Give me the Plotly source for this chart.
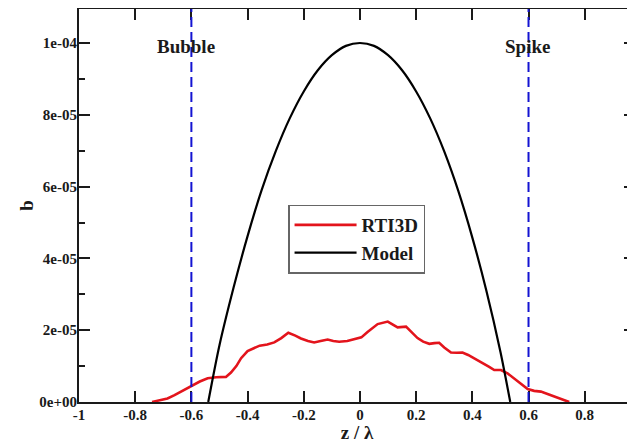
import plotly.graph_objects as go

# ---------------- data ----------------
rti3d_z = [-0.74, -0.70, -0.685, -0.66, -0.637, -0.615, -0.595, -0.57, -0.542, -0.512,
           -0.477, -0.459, -0.44, -0.423, -0.40, -0.38, -0.357, -0.33, -0.305, -0.28,
           -0.255, -0.23, -0.21, -0.185, -0.163, -0.14, -0.115, -0.095, -0.074, -0.045,
           -0.02, 0.005, 0.027, 0.045, 0.063, 0.099, 0.12, 0.134, 0.164, 0.185,
           0.205, 0.225, 0.247, 0.265, 0.282, 0.30, 0.324, 0.345, 0.365, 0.385,
           0.401, 0.431, 0.46, 0.478, 0.502, 0.525, 0.549, 0.575, 0.597, 0.62,
           0.644, 0.675, 0.704, 0.73, 0.745]
rti3d_b = [0.0e-5, 0.07e-5, 0.10e-5, 0.19e-5, 0.29e-5, 0.38e-5, 0.47e-5, 0.57e-5, 0.66e-5, 0.69e-5,
           0.70e-5, 0.82e-5, 1.00e-5, 1.22e-5, 1.42e-5, 1.50e-5, 1.57e-5, 1.60e-5, 1.66e-5, 1.78e-5,
           1.93e-5, 1.85e-5, 1.77e-5, 1.70e-5, 1.66e-5, 1.70e-5, 1.74e-5, 1.70e-5, 1.68e-5, 1.70e-5,
           1.74e-5, 1.80e-5, 1.95e-5, 2.06e-5, 2.17e-5, 2.24e-5, 2.14e-5, 2.08e-5, 2.10e-5, 1.95e-5,
           1.78e-5, 1.68e-5, 1.62e-5, 1.64e-5, 1.65e-5, 1.52e-5, 1.38e-5, 1.37e-5, 1.38e-5, 1.31e-5,
           1.24e-5, 1.12e-5, 0.98e-5, 0.89e-5, 0.89e-5, 0.80e-5, 0.66e-5, 0.50e-5, 0.36e-5, 0.31e-5,
           0.29e-5, 0.20e-5, 0.12e-5, 0.05e-5, 0.0e-5]

model_z = [-0.54, -0.50, -0.45, -0.40, -0.35, -0.30, -0.25, -0.20, -0.15, -0.10, -0.05,
           0.0, 0.05, 0.10, 0.15, 0.20, 0.25, 0.30, 0.35, 0.40, 0.45, 0.50, 0.535]
model_b = [0.0, 0.158e-4, 0.318e-4, 0.462e-4, 0.59e-4, 0.698e-4, 0.79e-4, 0.865e-4, 0.924e-4, 0.966e-4, 0.992e-4,
           1.0e-4, 0.992e-4, 0.966e-4, 0.924e-4, 0.865e-4, 0.79e-4, 0.698e-4, 0.588e-4, 0.458e-4, 0.31e-4, 0.14e-4, 0.0]

marker_z = [-0.6, 0.6]
marker_labels = ["Bubble", "Spike"]
marker_label_z = [-0.618, 0.596]
marker_label_b = 0.99e-4

x_tick_vals = [-1, -0.8, -0.6, -0.4, -0.2, 0, 0.2, 0.4, 0.6, 0.8, 1]
x_tick_text = ["-1", "-0.8", "-0.6", "-0.4", "-0.2", "0", "0.2", "0.4", "0.6", "0.8", "1"]
y_tick_vals = [0, 2e-5, 4e-5, 6e-5, 8e-5, 1e-4]
y_tick_text = ["0e+00", "2e-05", "4e-05", "6e-05", "8e-05", "1e-04"]

FONT = "Liberation Serif, Times New Roman, serif"
INK = "#1a1a1a"

fig = go.Figure()
fig.add_trace(go.Scatter(x=rti3d_z, y=rti3d_b, mode="lines", name="RTI3D",
                         line=dict(color="#e3141c", width=2.6)))
fig.add_trace(go.Scatter(x=model_z, y=model_b, mode="lines", name="Model",
                         line=dict(color="black", width=2.2, shape="spline", smoothing=0.8)))

for z in marker_z:
    fig.add_shape(type="line", x0=z, x1=z, xref="x", y0=0, y1=1, yref="paper",
                  line=dict(color="#1414d2", width=2, dash="10px,5px"))

for lab, z in zip(marker_labels, marker_label_z):
    fig.add_annotation(x=z, y=marker_label_b, text=lab, showarrow=False,
                       xanchor="center", yanchor="middle",
                       font=dict(family=FONT, size=19, color=INK, weight="bold"))

# invisible trace for right-side tick axis
fig.add_trace(go.Scatter(x=[None], y=[None], yaxis="y2", showlegend=False, hoverinfo="skip"))

yrange = [0, 1.0947e-4]
fig.update_layout(
    width=627, height=435,
    margin=dict(l=71, r=0, t=1, b=41, autoexpand=False),
    plot_bgcolor="white", paper_bgcolor="white",
    font=dict(family=FONT, size=15, color=INK, weight="bold"),
    showlegend=True,
    legend=dict(x=0.376, y=0.5025, xanchor="left", yanchor="top",
                bgcolor="white", bordercolor="#666", borderwidth=1.5,
                font=dict(family=FONT, size=19, color=INK, weight="bold"),
                itemwidth=62, tracegroupgap=2),
    xaxis=dict(range=[-1, 0.979], tickvals=x_tick_vals, ticktext=x_tick_text,
               ticks="inside", ticklen=11, tickwidth=2, tickcolor=INK,
               showline=True, linewidth=2, linecolor=INK, mirror="ticks",
               showgrid=False, zeroline=False, automargin=False, ticklabelstandoff=-2,
               title=dict(text="z / λ", font=dict(size=19, weight="bold"), standoff=6)),
    yaxis=dict(range=yrange, tickvals=y_tick_vals, ticktext=y_tick_text,
               ticks="inside", ticklen=11, tickwidth=2, tickcolor=INK,
               showline=True, linewidth=2, linecolor=INK,
               showgrid=False, zeroline=False, automargin=False, ticklabelstandoff=-3,
               minor=dict(dtick=1e-5, ticks="inside", ticklen=6, tickwidth=2, tickcolor=INK, showgrid=False),
               title=dict(text="b", font=dict(size=19, weight="bold"), standoff=1)),
    yaxis2=dict(range=yrange, overlaying="y", side="right", anchor="x",
                tickvals=y_tick_vals, showticklabels=False,
                ticks="inside", ticklen=11, tickwidth=2, tickcolor=INK,
                minor=dict(dtick=1e-5, ticks="inside", ticklen=6, tickwidth=2, tickcolor=INK, showgrid=False),
                showline=False, showgrid=False, zeroline=False, automargin=False),
)

fig.write_html("out.html")
